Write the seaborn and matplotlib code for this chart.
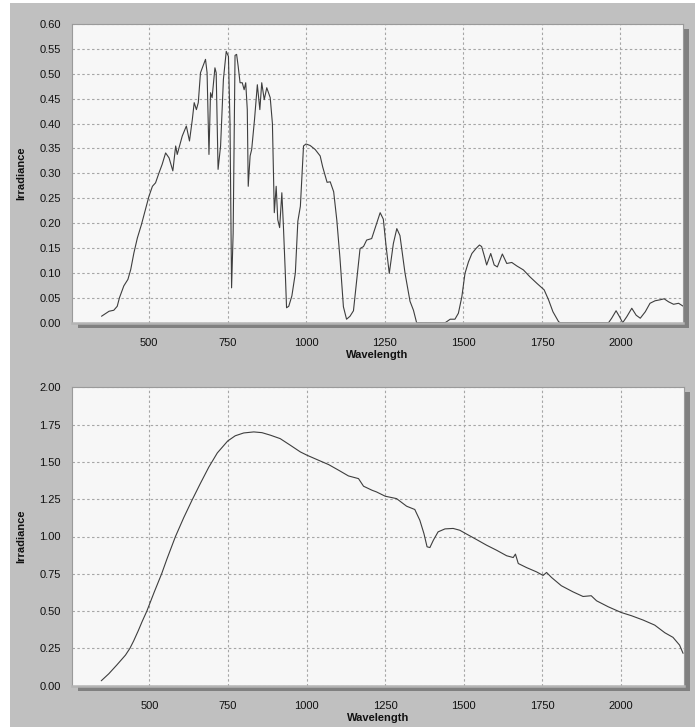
import matplotlib
matplotlib.use("Agg")
import matplotlib.pyplot as plt
from matplotlib.patches import Rectangle
from matplotlib.ticker import MultipleLocator
import seaborn as sns

# Direct-beam irradiance with atmospheric absorption bands
direct_wl = [348, 372, 387, 398, 405, 419, 432, 441, 451, 462, 475, 488, 499, 510, 520,
             531, 541, 552, 563, 575, 584, 589, 605, 618, 628, 637, 643, 650, 656, 663,
             679, 684, 690, 695, 700, 709, 713, 719, 727, 736, 745, 752, 757, 762, 767,
             773, 778, 783, 789, 796, 802, 807, 812, 815, 821, 826, 835, 844, 852, 858,
             866, 874, 885, 892, 898, 904, 909, 915, 922, 927, 933, 937, 944, 954, 965,
             973, 981, 991, 999, 1012, 1028, 1044, 1052, 1066, 1076, 1087, 1097, 1107,
             1118, 1128, 1139, 1150, 1160, 1171, 1182, 1192, 1208, 1224, 1235, 1245,
             1254, 1264, 1277, 1288, 1298, 1314, 1330, 1341, 1351, 1442, 1458, 1473,
             1484, 1495, 1505, 1516, 1527, 1540, 1551, 1558, 1567, 1574, 1587, 1598,
             1608, 1624, 1638, 1654, 1670, 1691, 1712, 1734, 1757, 1771, 1785, 1803,
             1808, 1962, 1972, 1986, 1997, 2007, 2020, 2036, 2050, 2063, 2079, 2094,
             2110, 2126, 2139, 2153, 2169, 2185, 2200]
direct_irr = [0.013, 0.023, 0.025, 0.033, 0.050, 0.074, 0.087, 0.107, 0.140, 0.170, 0.197,
              0.228, 0.254, 0.274, 0.281, 0.301, 0.318, 0.341, 0.331, 0.305, 0.355, 0.338,
              0.375, 0.395, 0.365, 0.408, 0.442, 0.428, 0.442, 0.502, 0.529, 0.502, 0.338,
              0.462, 0.452, 0.512, 0.502, 0.308, 0.355, 0.489, 0.545, 0.535, 0.400, 0.070,
              0.180, 0.537, 0.539, 0.515, 0.482, 0.482, 0.468, 0.482, 0.428, 0.274, 0.335,
              0.348, 0.408, 0.478, 0.428, 0.482, 0.448, 0.472, 0.452, 0.400, 0.221, 0.274,
              0.207, 0.191, 0.261, 0.194, 0.100, 0.030, 0.033, 0.054, 0.100, 0.204, 0.234,
              0.355, 0.359, 0.356, 0.348, 0.335, 0.313, 0.282, 0.283, 0.263, 0.206, 0.130,
              0.032, 0.007, 0.013, 0.024, 0.084, 0.149, 0.153, 0.166, 0.169, 0.200, 0.221,
              0.208, 0.153, 0.099, 0.159, 0.189, 0.175, 0.100, 0.043, 0.025, 0.000, 0.000,
              0.007, 0.007, 0.019, 0.052, 0.099, 0.122, 0.139, 0.149, 0.156, 0.153, 0.133,
              0.116, 0.139, 0.116, 0.112, 0.138, 0.119, 0.121, 0.114, 0.106, 0.092, 0.079,
              0.066, 0.046, 0.022, 0.002, 0.000, 0.000, 0.009, 0.024, 0.012, 0.000, 0.012,
              0.029, 0.015, 0.009, 0.022, 0.039, 0.044, 0.046, 0.048, 0.042, 0.037, 0.039,
              0.033]

# Smooth reference irradiance
smooth_wl = [347, 371, 397, 424, 438, 450, 465, 477, 492, 515, 539, 556, 583, 609, 636,
             662, 689, 699, 716, 749, 773, 800, 832, 858, 885, 916, 948, 980, 1001, 1038,
             1070, 1102, 1133, 1165, 1181, 1208, 1222, 1250, 1286, 1318, 1344, 1360, 1373,
             1383, 1392, 1403, 1418, 1440, 1466, 1487, 1509, 1540, 1572, 1604, 1636, 1657,
             1664, 1673, 1699, 1731, 1752, 1763, 1779, 1810, 1847, 1879, 1905, 1922, 1959,
             2000, 2033, 2070, 2107, 2139, 2165, 2186, 2197]
smooth_irr = [0.033, 0.080, 0.140, 0.205, 0.250, 0.300, 0.370, 0.430, 0.500, 0.625, 0.750,
              0.850, 1.000, 1.125, 1.245, 1.355, 1.465, 1.500, 1.560, 1.640, 1.675, 1.694,
              1.701, 1.696, 1.679, 1.656, 1.612, 1.567, 1.545, 1.511, 1.482, 1.444, 1.406,
              1.388, 1.337, 1.310, 1.299, 1.270, 1.254, 1.203, 1.181, 1.109, 1.020, 0.931,
              0.926, 0.975, 1.031, 1.051, 1.054, 1.042, 1.016, 0.980, 0.942, 0.908, 0.871,
              0.859, 0.882, 0.819, 0.792, 0.763, 0.739, 0.759, 0.725, 0.670, 0.629, 0.598,
              0.603, 0.569, 0.529, 0.491, 0.469, 0.440, 0.406, 0.355, 0.324, 0.272, 0.217]

x_ticks = [500, 750, 1000, 1250, 1500, 1750, 2000]
top_yticks = [0.00, 0.05, 0.10, 0.15, 0.20, 0.25, 0.30, 0.35, 0.40, 0.45, 0.50, 0.55, 0.60]
bottom_yticks = [0.00, 0.25, 0.50, 0.75, 1.00, 1.25, 1.50, 1.75, 2.00]

sns.set_style("white")
plt.rcParams["font.family"] = ["Liberation Sans", "DejaVu Sans"]

W, H = 695, 727
fig = plt.figure(figsize=(W / 100, H / 100), dpi=100, facecolor="white")

# grey panel behind everything
fig.patches.append(Rectangle((10 / W, 0), 1 - 10 / W, 1 - 3 / H, transform=fig.transFigure,
                             facecolor="#c0c0c0", edgecolor="none", zorder=-3))


def make_axes(left, top, right, bottom):
    rect = [left / W, 1 - bottom / H, (right - left) / W, (bottom - top) / H]
    ax = fig.add_axes(rect)
    # drop shadow
    fig.patches.append(Rectangle((rect[0] + 6 / W, rect[1] - 5 / H), rect[2], rect[3],
                                 transform=fig.transFigure, facecolor="#808080",
                                 edgecolor="none", zorder=-1))
    return ax


panels = [
    (make_axes(72, 24, 683.3, 322.7), direct_wl, direct_irr, top_yticks, 0.6, 0.01),
    (make_axes(72, 387.3, 684, 685.7), smooth_wl, smooth_irr, bottom_yticks, 2.0, 0.05),
]

for ax, wl, irr, yt, ymax, yminor in panels:
    ax.set_facecolor("#f7f7f7")
    sns.lineplot(x=wl, y=irr, ax=ax, color="#3e3e3e", linewidth=0.8)
    ax.set_xlim(254, 2200)
    ax.set_ylim(0, ymax)
    ax.set_xticks(x_ticks)
    ax.set_yticks(yt)
    ax.set_yticklabels([f"{v:.2f}" for v in yt])
    ax.xaxis.set_minor_locator(MultipleLocator(50))
    ax.yaxis.set_minor_locator(MultipleLocator(yminor))
    ax.grid(True, which="major", linestyle=(0, (2.2, 2.2)), color="#a6a6a6", linewidth=0.8)
    ax.tick_params(axis="y", which="major", direction="out", length=4, width=0.8,
                   color="#8a8a8a", pad=4, labelsize=8, labelcolor="#111111")
    ax.tick_params(axis="x", which="major", length=0, pad=11, labelsize=8,
                   labelcolor="#111111")
    ax.tick_params(axis="x", which="minor", direction="in", length=4, width=0.7,
                   color="#a6a6a6")
    ax.tick_params(axis="y", which="minor", direction="in", length=2.5, width=0.7,
                   color="#a6a6a6")
    for side in ["top", "left", "right"]:
        ax.spines[side].set_visible(True)
        ax.spines[side].set_color("#9a9a9a")
        ax.spines[side].set_linewidth(0.8)
    # bottom edge drawn over the curve where the irradiance sits at zero
    ax.spines["bottom"].set_visible(True)
    ax.spines["bottom"].set_color("#b4b4b4")
    ax.spines["bottom"].set_linewidth(1.8)
    ax.spines["bottom"].set_zorder(5)
    ax.set_xlabel("Wavelength", fontsize=8, fontweight="bold", color="#111111")
    ax.set_ylabel("Irradiance", fontsize=8, fontweight="bold", color="#111111")
    ax.xaxis.set_label_coords(0.5, -0.092)
    ax.yaxis.set_label_coords(-0.075, 0.5)

fig.savefig("out.png", dpi=100, facecolor=fig.get_facecolor())
